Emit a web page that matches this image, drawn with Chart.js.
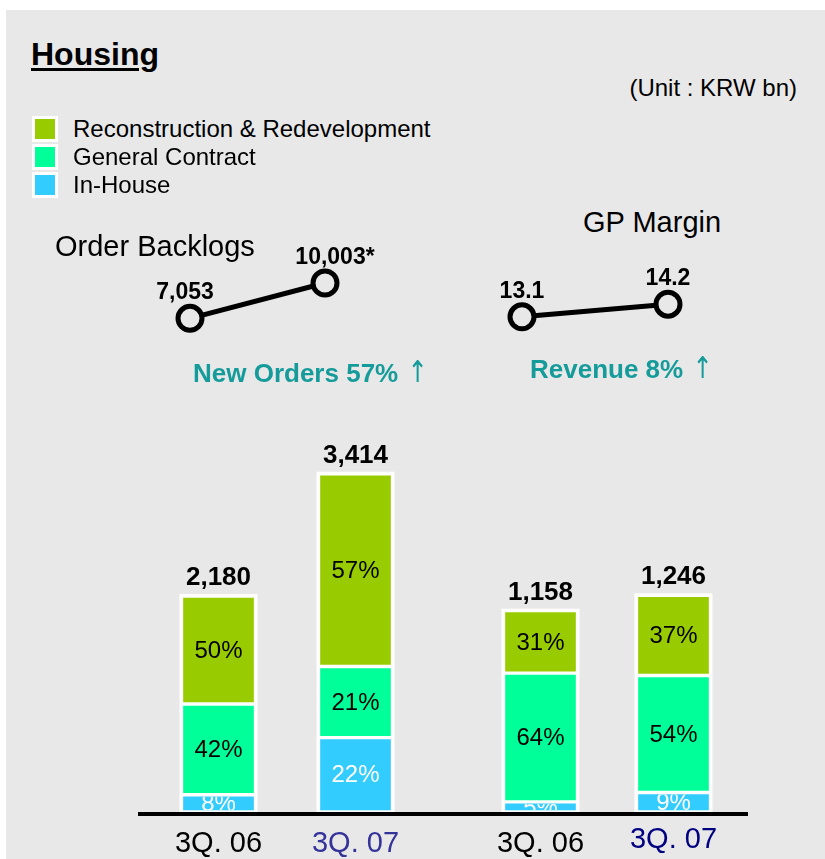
<!DOCTYPE html>
<html>
<head>
<meta charset="utf-8">
<script src="https://cdn.jsdelivr.net/npm/chart.js@4.4.1/dist/chart.umd.min.js"></script>
<style>
  html, body { margin:0; padding:0; background:#ffffff; }
  body { width:825px; height:859px; position:relative; overflow:hidden; font-family:"Liberation Sans", Arial, sans-serif; }
  #panel { position:absolute; left:6px; top:10px; width:819px; height:849px; background:#e8e8e8; }
  .t { position:absolute; white-space:nowrap; line-height:1; color:#000; }
  .arrow { font-family:"DejaVu Sans", sans-serif; font-weight:normal; font-size:30px; line-height:0; display:inline-block; transform:scaleX(0.8); vertical-align:baseline; }
  canvas { position:absolute; }
  .sq { position:absolute; width:20px; height:20px; border:3px solid #ffffff; }
  #axis { position:absolute; left:138px; top:812px; width:610px; height:4px; background:#000; }
</style>
</head>
<body>
<div id="panel"></div>
<div id="axis"></div>
<canvas id="backlog"></canvas>
<canvas id="gp"></canvas>
<canvas id="orders"></canvas>
<canvas id="revenue"></canvas>
<script>
// ---------------- data ----------------
const periods = ['3Q. 06', '3Q. 07'];
const seriesNames = ['Reconstruction & Redevelopment', 'General Contract', 'In-House'];

const orderTotals = [2180, 3414];          // New orders
const orderReconPct = [50, 57];
const orderGeneralPct = [42, 21];
const orderInhousePct = [8, 22];

const revenueTotals = [1158, 1246];        // Revenue
const revenueReconPct = [31, 37];
const revenueGeneralPct = [64, 54];
const revenueInhousePct = [5, 9];

const backlogValues = [7053, 10003];
const backlogLabels = ['7,053', '10,003*'];
const gpMarginValues = [13.1, 14.2];
const gpMarginLabels = ['13.1', '14.2'];

// ---------------- styles ----------------
const FONT = '"Liberation Sans", Arial, sans-serif';
const C_RECON = '#99cc00', C_GEN = '#00ff99', C_IN = '#33ccff';
const TEAL = '#169b9b';

// text helper: place by baseline
function txt(s, x, baseline, size, opts = {}) {
  const d = document.createElement('div');
  d.className = 't';
  d.innerHTML = s;
  d.style.fontSize = size + 'px';
  d.style.top = (baseline - 0.8465 * size) + 'px';
  if (opts.right !== undefined) d.style.right = opts.right + 'px'; else d.style.left = x + 'px';
  if (opts.bold) d.style.fontWeight = 'bold';
  if (opts.color) d.style.color = opts.color;
  if (opts.underline) { d.style.textDecoration = 'underline'; d.style.textDecorationThickness = '3px'; d.style.textUnderlineOffset = '3px'; }
  document.body.appendChild(d);
  return d;
}

txt('Housing', 31, 65, 32, { bold: true, underline: true });
txt('(Unit : KRW bn)', 0, 96, 24, { right: 28 });

// legend
const legendColors = [C_RECON, C_GEN, C_IN];
seriesNames.forEach((n, i) => {
  const s = document.createElement('div');
  s.className = 'sq';
  s.style.left = '32px';
  s.style.top = (116 + i * 28) + 'px';
  s.style.background = legendColors[i];
  document.body.appendChild(s);
  txt(n, 73, 137 + i * 28, 24);
});

txt('Order Backlogs', 55, 257, 29);
txt('GP Margin', 583, 233, 29);
txt('New Orders 57% <span class="arrow">&#8593;</span>', 193, 382, 26, { bold: true, color: TEAL });
txt('Revenue 8% <span class="arrow">&#8593;</span>', 530, 378, 26, { bold: true, color: TEAL });

// ---------------- line charts ----------------
const pointLabelPlugin = {
  id: 'pointLabels',
  afterDatasetsDraw(chart, args, o) {
    const ctx = chart.ctx;
    const meta = chart.getDatasetMeta(0);
    ctx.save();
    ctx.font = 'bold 23px ' + FONT;
    ctx.fillStyle = '#000';
    ctx.textAlign = 'center';
    ctx.textBaseline = 'alphabetic';
    meta.data.forEach((pt, i) => {
      ctx.fillText(o.labels[i], pt.x + o.dx[i], pt.y - 19);
    });
    ctx.restore();
  }
};

function lineChart(id, left, top, width, height, pad, values, labels, min, max, dx) {
  const cv = document.getElementById(id);
  cv.width = width; cv.height = height;
  cv.style.left = left + 'px'; cv.style.top = top + 'px';
  cv.style.width = width + 'px'; cv.style.height = height + 'px';
  return new Chart(cv, {
    type: 'line',
    data: {
      labels: periods,
      datasets: [{
        data: values,
        borderColor: '#000',
        borderWidth: 5,
        pointRadius: 12,
        pointBorderWidth: 5,
        pointBorderColor: '#000',
        pointBackgroundColor: '#e8e8e8',
        clip: false,
        tension: 0
      }]
    },
    options: {
      responsive: false,
      animation: false,
      devicePixelRatio: 1,
      layout: { padding: pad },
      plugins: { legend: { display: false }, tooltip: { enabled: false },
                 pointLabels: { labels: labels, dx: dx } },
      scales: {
        x: { display: false, offset: false },
        y: { display: false, min: min, max: max }
      }
    },
    plugins: [pointLabelPlugin]
  });
}

lineChart('backlog', 150, 238, 235, 101, { left: 40, right: 60, top: 45, bottom: 20 },
          backlogValues, backlogLabels, 7000, 10000, [-5, 10]);
lineChart('gp', 492, 258, 206, 80, { left: 30, right: 30, top: 45, bottom: 20 },
          gpMarginValues, gpMarginLabels, 13, 14.3, [0, 0]);

// ---------------- stacked bar charts ----------------
const BW = 2, OUT = 2;
const stackPlugin = {
  id: 'stackDecor',
  beforeDatasetsDraw(chart) {
    const ctx = chart.ctx;
    ctx.save();
    ctx.fillStyle = '#ffffff';
    chart.data.labels.forEach((_, i) => {
      let top = Infinity, base = -Infinity, x = 0, w = 0;
      chart.data.datasets.forEach((ds, di) => {
        const el = chart.getDatasetMeta(di).data[i];
        const p = el.getProps(['x', 'y', 'base', 'width'], true);
        top = Math.min(top, p.y, p.base); base = Math.max(base, p.y, p.base); x = p.x; w = p.width;
      });
      ctx.fillRect(x - w / 2 - OUT, top - OUT, w + 2 * OUT, base - top + OUT);
    });
    ctx.restore();
  },
  afterDatasetsDraw(chart, args, o) {
    const ctx = chart.ctx;
    ctx.save();
    // segment percentages, clipped to each segment
    chart.data.datasets.forEach((ds, di) => {
      chart.getDatasetMeta(di).data.forEach((el, i) => {
        const p = el.getProps(['x', 'y', 'base', 'width'], true);
        const t = Math.min(p.y, p.base) + BW, b = Math.max(p.y, p.base) - BW;
        const l = p.x - p.width / 2 + BW, r = p.x + p.width / 2 - BW;
        ctx.save();
        ctx.beginPath(); ctx.rect(l, t, r - l, b - t); ctx.clip();
        ctx.font = '24px ' + FONT;
        ctx.fillStyle = ds.labelColor;
        ctx.textAlign = 'center';
        ctx.textBaseline = 'middle';
        ctx.fillText(ds.pct[i] + '%', p.x, (t + b) / 2 + 1);
        ctx.restore();
      });
    });
    // totals above stacks
    const last = chart.getDatasetMeta(chart.data.datasets.length - 1).data;
    ctx.font = 'bold 26px ' + FONT;
    ctx.fillStyle = '#000';
    ctx.textAlign = 'center';
    ctx.textBaseline = 'alphabetic';
    last.forEach((el, i) => {
      const p = el.getProps(['x', 'y'], true);
      ctx.fillText(o.totals[i].toLocaleString('en-US'), p.x, p.y - OUT - 9);
    });
    // category labels
    const xs = chart.scales.x;
    ctx.font = '29px ' + FONT;
    chart.data.labels.forEach((lab, i) => {
      ctx.fillStyle = o.labelColors[i];
      ctx.fillText(lab, xs.getPixelForValue(i), chart.chartArea.bottom + 40 + o.labelDy[i]);
    });
    ctx.restore();
  }
};

function barChart(id, left, width, totals, recon, gen, inh, max, labelColors, labelDy) {
  const cv = document.getElementById(id);
  const top = 380, height = 479;
  cv.width = width; cv.height = height;
  cv.style.left = left + 'px'; cv.style.top = top + 'px';
  cv.style.width = width + 'px'; cv.style.height = height + 'px';
  const seg = (pcts) => pcts.map((p, i) => totals[i] * p / 100);
  const common = { borderColor: '#ffffff', borderWidth: BW, borderSkipped: false, barThickness: 74 };
  return new Chart(cv, {
    type: 'bar',
    data: {
      labels: periods,
      datasets: [
        Object.assign({ label: seriesNames[2], data: seg(inh), pct: inh, backgroundColor: C_IN, labelColor: '#ffffff' }, common),
        Object.assign({ label: seriesNames[1], data: seg(gen), pct: gen, backgroundColor: C_GEN, labelColor: '#000000' }, common),
        Object.assign({ label: seriesNames[0], data: seg(recon), pct: recon, backgroundColor: C_RECON, labelColor: '#000000' }, common)
      ]
    },
    options: {
      responsive: false,
      animation: false,
      devicePixelRatio: 1,
      layout: { padding: { left: 0, right: 0, top: 0, bottom: 47 } },
      plugins: { legend: { display: false }, tooltip: { enabled: false },
                 stackDecor: { totals: totals, labelColors: labelColors, labelDy: labelDy } },
      scales: {
        x: { display: false, stacked: true },
        y: { display: false, stacked: true, min: 0, max: max }
      }
    },
    plugins: [stackPlugin]
  });
}

barChart('orders', 150, 274, orderTotals, orderReconPct, orderGeneralPct, orderInhousePct,
         4360, ['#000000', '#333399'], [0, 0]);
barChart('revenue', 474, 266, revenueTotals, revenueReconPct, revenueGeneralPct, revenueInhousePct,
         2485, ['#000000', '#000080'], [0, -4]);
</script>
</body>
</html>
